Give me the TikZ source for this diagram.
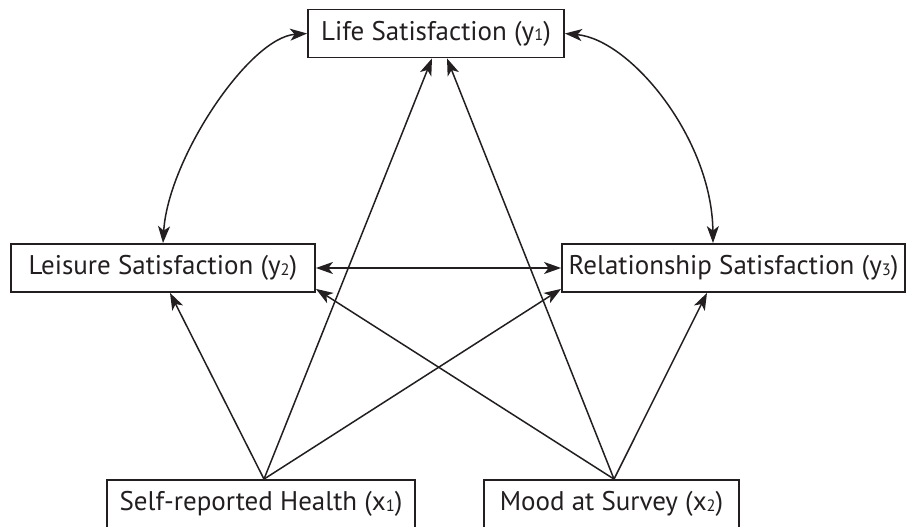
\documentclass[tikz,border=0pt]{standalone}
\usepackage{fontspec}
\setmainfont{PT Sans}
\usetikzlibrary{arrows.meta,calc}
\definecolor{ink}{HTML}{231F20}
\newcommand{\sbx}[1]{\raisebox{-0.5pt}{\fontsize{16.5}{16.5}\selectfont #1}}
\begin{document}
\begin{tikzpicture}[x=1pt,y=1pt,
  box/.style={draw=ink,text=ink,line width=1.8pt,minimum height=48pt,inner sep=0pt,font=\fontsize{27}{30}\selectfont},
  tip/.tip={Stealth[length=17pt,width=12pt,inset=4.5pt]},
  arr/.style={draw=ink,fill=ink,line width=1.5pt,-tip},
  darr/.style={draw=ink,fill=ink,line width=1.5pt,tip-tip}]
\useasboundingbox (0,0) rectangle (907,527);
\node[box,minimum width=256pt] (life) at (436,493.5) {Life Satisfaction (y\sbx{1})};
\node[box,minimum width=304pt] (leis) at (163,259) {Leisure Satisfaction (y\sbx{2})};
\node[box,minimum width=343pt] (rel) at (733.5,259) {Relationship Satisfaction (y\sbx{3})};
\node[box,minimum width=308pt] (health) at (261,23) {Self-reported Health (x\sbx{1})};
\node[box,minimum width=255pt] (mood) at (611.5,23) {Mood at Survey (x\sbx{2})};
\coordinate (h) at ($(health.north)+(3,0)$);
\coordinate (m) at ($(mood.north)+(2.5,0)$);
\coordinate (lifeA) at ($(life.south)+(-4,0)$);
\coordinate (lifeB) at ($(life.south)+(11,0)$);
\coordinate (leisB) at ($(leis.south)+(7,0)$);
\coordinate (leisR) at ($(leis.south east)+(0,4)$);
\coordinate (relL) at ($(rel.south west)+(0,4)$);
\coordinate (relB) at ($(rel.south)+(-26.5,0)$);
\coordinate (relT) at ($(rel.north)+(-20.5,0)$);
% curved covariances
\draw[darr,fill=none] (life.west) .. controls ($(life.west)+(-58,-4)$) and ($(leis.north)+(5,84)$) .. (leis.north);
\draw[darr,fill=none] (life.east) .. controls ($(life.east)+(66,-6)$) and ($(relT)+(-1,104)$) .. (relT);
\draw[darr] (leis.east) -- (rel.west);
% regressions
\draw[arr] (h) -- (leisB);
\draw[arr] (h) -- (lifeA);
\draw[arr] (h) -- (relL);
\draw[arr] (m) -- (lifeB);
\draw[arr] (m) -- (leisR);
\draw[arr] (m) -- (relB);
\end{tikzpicture}
\end{document}
